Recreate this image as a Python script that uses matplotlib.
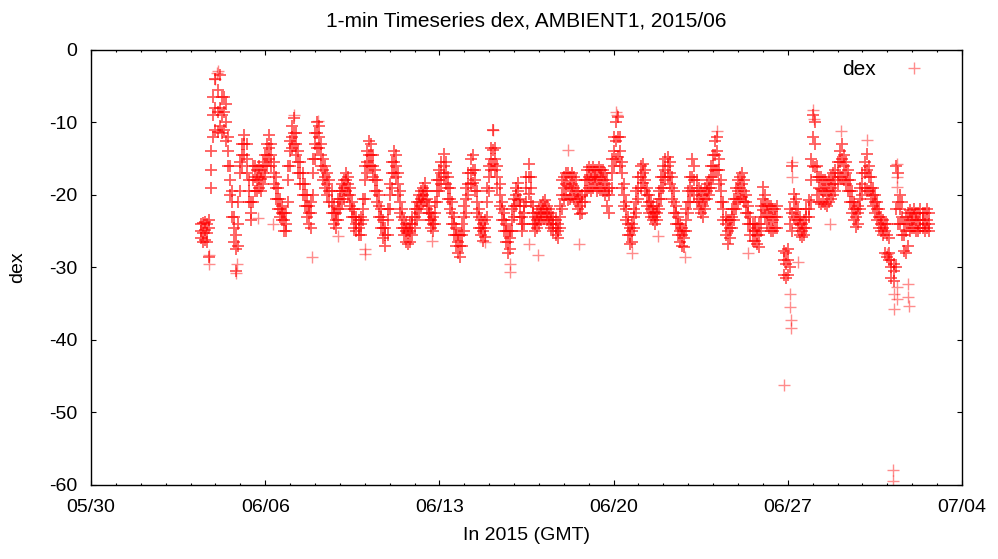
import pandas as pd
import matplotlib
matplotlib.use("Agg")
import matplotlib.pyplot as plt
import matplotlib.dates as mdates

plt.rcParams['font.family'] = ['Liberation Sans', 'DejaVu Sans']
plt.rcParams['axes.unicode_minus'] = False

# -------------------------------
# DATA (2-hour slots from 06/03 10:00 GMT)
# -------------------------------
START = "2015-06-03 10:00"
STEP = "2h"
nan = float("nan")

# upper edge of the band
dex_upper = [
    -24, -23.8, -23.7, -24, -23.5, -14, -6.5,                                   # 06/03
    -4, -5.5, -3.5, -6.5, -6.5, -7.5, -12, -16, -19.5, -23, -25.5, -21,          # 06/04
    -15.5, -13, -11.7, -13, -18, -21, -16, -16, -16.5, -16, -16.5, -15.5,        # 06/05
    -14.5, -13, -11.7, -13, -15.5, -17.5, -19, -20.5, -21.5, -22.5, -22.5, -16,  # 06/06
    -12.5, -10.5, -9.4, -11.5, -14, -15.5, -17, -18.5, -20, -21.5, -21, -15,     # 06/07
    -11.5, -10, -10.5, -13, -15, -16, -17, -18, -19.5, -21.5, -22.5, -20.5,      # 06/08
    -19.5, -18.5, -18, -17, -17.5, -19, -21, -22, -23, -23.5, -23, -20.5,        # 06/09
    -16, -14, -12.5, -13, -14.5, -16.5, -18, -20, -22, -23.5, -24.5, -22,        # 06/10
    -18.5, -15.5, -14, -14.5, -17, -19.5, -22, -23.5, -24, -24.5, -24, -23,      # 06/11
    -22, -21, -20, -19.5, -19, -18.4, -19.5, -21.5, -22.5, -23, -21, -18,        # 06/12
    -16.5, -15.5, -14.3, -15.5, -17.5, -19, -21, -23, -24.5, -25.5, -25.5, -24,  # 06/13
    -21.5, -19, -17, -15, -14.5, -16.5, -19.5, -22, -23.5, -24, -23.5, -19,      # 06/14
    -16, -13.5, -11, -13.5, -16, -18.5, -21, -22.5, -24, -25, -25, -22,          # 06/15
    -20.5, -19, -18.4, -20.5, -23, -21.5, -17.5, -15.7, -17.5, -21.5, -23, -22.5,  # 06/16
    -22, -21.5, -21, -20.7, -21.5, -22, -22.5, -23, -23.5, -24, -21.5, -18,      # 06/17
    -17.5, -17, -17, -17.5, -17, -17.5, -18, -19.5, -20.3, -20, -18, -16.5,      # 06/18
    -16.2, -16.5, -16.2, -16.5, -16.5, -16.2, -16.5, -16.5, -17, -18, -19, -15,  # 06/19
    -12, -10, -9.2, -12, -15.5, -18.5, -21, -23, -24.5, -24, -22, -19.5,         # 06/20
    -17.5, -16, -15.7, -16.5, -19, -20, -21, -21.5, -22.3, -21.5, -19.5, -17.5,  # 06/21
    -16, -15, -14.7, -15.5, -17.5, -19.5, -21.5, -23, -24, -24.5, -25, -22,      # 06/22
    -19.5, -17.5, -15, -16, -18, -19, -19.5, -20, -19, -18.5, -18, -16,          # 06/23
    -14.5, -12.5, -12, -15, -18, -21, -23, -23.5, -23.5, -22, -20.5, -19,        # 06/24
    -18, -17.5, -17, -18, -20, -21.5, -23, -24, -24, -24.5, -24, -21.5,          # 06/25
    -18.9, -20, -21.2, -21.5, -21.5, -22, -22, -21.5, nan, nan, -27.7, -28,      # 06/26
    -27.5, -22, -16, -19.8, -20.5, -22, -23, -24, -23.5, -22, -20.7, -15,        # 06/27
    -9, -10, -16, -17.5, -17.5, -18, -18, -18.5, -18, -17.5, -17, -16.5,         # 06/28
    -15.5, -14, -12.9, -14.5, -15.5, -16.5, -18, -19.5, -21, -22, -21.5, -19,    # 06/29
    -17, -15.5, -14.3, -16, -17.5, -19, -20, -21, -22, -23, -23.5, -24,          # 06/30
    -24, -26, -29, -29.5, -16, -17, -20, -21, -24, -23, -22.5, -22.1,            # 07/01
    -22.5, -22, -22.5, -22.5, -22, -22.5, -22.5, -22, -22.5,                     # 07/02
]

# middle of the band
dex_mid = [
    -25, -25.2, -24.8, -25.3, -24.5, -16.5, -9,                                  # 06/03
    -8, -8.5, -8, -9, -8.5, -10, -14, -18, -21, -24.5, -27.5, -24,               # 06/04
    -17, -14.5, -13, -15, -19.5, -22.5, -18, -17.5, -18, -17.5, -17.8, -17,      # 06/05
    -16, -14.5, -13.5, -14.5, -17, -19, -20.5, -22, -22.5, -23.5, -24, -18,      # 06/06
    -14, -12, -11.5, -13, -15.5, -17, -18.5, -20, -21.5, -22.5, -22.5, -17,      # 06/07
    -13, -11.5, -12, -14.5, -16.5, -17.5, -18.5, -19.5, -21, -22.5, -23.5, -22,  # 06/08
    -20.5, -19.5, -19, -18, -18.5, -20, -22, -23, -24, -24.5, -24, -22,          # 06/09
    -18, -15.5, -14.5, -14.5, -16, -18, -19.5, -21.5, -23, -24.5, -25.5, -23.5,  # 06/10
    -20, -17, -15.5, -16, -18.5, -21, -23, -24.5, -25, -25.3, -25, -24,          # 06/11
    -23, -22, -21, -20.5, -20, -19.5, -20.5, -22.5, -23.5, -24, -22.5, -19.5,    # 06/12
    -18, -17, -16, -17, -19, -20.5, -22.5, -24, -25.5, -26.5, -27, -25.5,        # 06/13
    -23, -20.5, -18.5, -17, -16.5, -18, -21, -23, -24.5, -25, -24.5, -21,        # 06/14
    -17.5, -15, -13.8, -15, -17.5, -20, -22, -23.5, -25, -26.5, -26, -23.5,      # 06/15
    -21.5, -20, -19.5, -21.5, -24, -22.5, -19, -17.5, -19, -22.5, -24, -23.5,    # 06/16
    -23, -22.5, -22, -22, -22.5, -23, -23.5, -24, -24.5, -25, -23, -20,          # 06/17
    -19, -18.5, -18.8, -19, -18.5, -19, -19.5, -20.5, -21.5, -21, -19.5, -18,    # 06/18
    -17.5, -17.8, -17.5, -17.5, -18, -17.5, -17.5, -18, -18.5, -19.5, -20, -17,  # 06/19
    -14, -12.5, -12, -14, -17, -20, -22, -24, -25.5, -25, -23, -21,              # 06/20
    -19, -17.5, -17, -18, -20, -21, -22, -22.5, -23, -22.5, -20.5, -19,          # 06/21
    -17.5, -16.5, -16, -17, -19, -21, -22.5, -24, -25, -25.5, -26, -23.5,        # 06/22
    -21, -19, -17.5, -18, -19.5, -20.5, -21, -21.5, -20.5, -19.5, -19, -17.5,    # 06/23
    -16, -14.5, -14, -16.5, -19.5, -22, -24, -25, -24.5, -23, -22, -20.5,        # 06/24
    -19.5, -19, -18.5, -19.5, -21, -22.5, -24, -25, -25, -25.5, -25.5, -23,      # 06/25
    -20.5, -21.5, -22.5, -23, -23, -23.5, -23, -23, nan, nan, -29, -29.5,        # 06/26
    -29, -24, -22.5, -21, -22, -23.5, -24, -25, -24.5, -23, -22, -18,            # 06/27
    -12, -13, -17.5, -19, -19.2, -19.5, -19.5, -20, -19.5, -19, -18.5, -18,      # 06/28
    -17, -15.5, -15, -16, -17, -18, -19.5, -21, -22, -23, -22.5, -20.5,          # 06/29
    -18.5, -17, -16.5, -17.5, -19, -20, -21, -22, -23, -24, -24.5, -25,          # 06/30
    -25.5, -28, -30, -30.5, -22, -21, -22, -23, -25.5, -25, -24, -23.5,          # 07/01
    -23.5, -23, -23.5, -24, -23.5, -23.5, -24, -23.5, -24,                       # 07/02
]

# lower edge of the band
dex_lower = [
    -26, -26.5, -26.2, -26.5, -28.5, -19, -12,                                   # 06/03
    -11, -11.3, -10.5, -11.5, -11, -12.5, -16, -20, -23, -26.5, -30.5, -27,      # 06/04
    -19.5, -16, -14.5, -17, -21, -23.5, -21, -19.5, -19.5, -19, -19.4, -18.5,    # 06/05
    -17.5, -16, -15, -16, -18.5, -20.5, -22, -23, -23.5, -25, -25, -21,          # 06/06
    -16, -13.5, -13, -14.5, -17, -18.5, -20, -21.5, -23, -24, -24.5, -20,        # 06/07
    -15, -13.5, -13.5, -16, -18, -19, -20, -21, -22.5, -24, -24.5, -23.5,        # 06/08
    -22, -21, -20.5, -19.5, -20, -21.5, -23, -24.5, -25, -25.5, -25.5, -23.5,    # 06/09
    -20.5, -17, -16, -16, -17.5, -19.5, -21, -23, -24.5, -26, -27, -25.5,        # 06/10
    -22, -19, -17, -17.5, -20, -22.5, -24.5, -25.5, -26.5, -26.7, -26.5, -25.5,  # 06/11
    -24.5, -23.5, -22.5, -21.5, -21, -20.7, -22, -23.5, -24.5, -25, -24, -21,    # 06/12
    -19.5, -18.5, -17.5, -18.5, -20.5, -22, -24, -25.5, -27, -28, -28.6, -27,    # 06/13
    -25, -22.5, -20, -18.5, -18.4, -19.5, -22.5, -24.5, -25.5, -26.3, -25.8, -23,  # 06/14
    -19.5, -16.5, -15.7, -16.5, -19, -21.5, -23.5, -25, -26.5, -28, -27.5, -25,  # 06/15
    -23, -21.5, -20.7, -23, -25, -24, -21, -19.8, -21, -24, -25, -24.5,          # 06/16
    -24, -23.5, -23, -23, -23.5, -24, -24.5, -25, -25.5, -26, -24.5, -22,        # 06/17
    -20.5, -20, -20.7, -20.5, -20, -20.5, -21, -22, -22.6, -22.5, -21, -19.5,    # 06/18
    -19, -19.4, -19, -18.5, -19.4, -19, -19, -19.5, -20, -21.5, -22.5, -19,      # 06/19
    -16, -15, -14.7, -16, -19, -21.5, -23.5, -25.5, -26.7, -26.5, -24.5, -22.5,  # 06/20
    -20.5, -19, -18.4, -19.5, -21.5, -22.5, -23, -23.5, -24, -23.5, -22, -20.5,  # 06/21
    -19, -18, -17.5, -18.5, -20.5, -22.5, -24, -25.5, -26.5, -27, -27.2, -25,    # 06/22
    -22.5, -21, -19.4, -20, -21, -22, -22.5, -23, -22, -20.5, -20, -19,          # 06/23
    -17.5, -16.5, -16.6, -18.5, -21, -23.5, -25.5, -26.7, -26, -24.5, -23.5, -22,  # 06/24
    -21, -20.5, -20.3, -21, -22.5, -24, -25.5, -26.3, -26.3, -26.8, -27.2, -25,  # 06/25
    -22.1, -23, -24, -24.5, -24.9, -24.9, -24.5, -24.5, nan, nan, -31, -31.4,    # 06/26
    -31, -30, -25, -23, -23.5, -24.5, -25.5, -25.8, -25.5, -24.5, -23, -21,      # 06/27
    -16, -16.2, -20, -21, -21.2, -21, -21.2, -21.5, -21, -20.5, -20, -19.5,      # 06/28
    -18.5, -17.5, -17.5, -18, -18.5, -19.5, -21, -22.5, -23.5, -24.4, -24, -22,  # 06/29
    -20, -19, -19.4, -19.5, -20.5, -21.5, -22.5, -23.5, -24.5, -25, -25.5, -28,  # 06/30
    -28.5, -29, -31.5, -31.8, -30, -24, -24, -25.5, -27.7, -28, -27, -24.9,      # 07/01
    -24.5, -24.5, -24.9, -25, -24.5, -24.5, -25, -24.5, -25,                     # 07/02
]

# scattered single points outside the band
outlier_times = [
    "2015-06-03 17:45", "2015-06-03 18:00", "2015-06-04 00:00", "2015-06-04 01:10",
    "2015-06-04 02:50", "2015-06-04 20:15", "2015-06-04 20:45", "2015-06-05 17:15",
    "2015-06-06 07:25", "2015-06-07 03:35", "2015-06-07 20:50", "2015-06-08 02:50",
    "2015-06-08 22:20", "2015-06-10 00:10", "2015-06-10 00:20", "2015-06-12 16:35",
    "2015-06-14 19:55", "2015-06-15 04:05", "2015-06-15 20:05", "2015-06-15 20:15",
    "2015-06-16 14:25", "2015-06-16 23:30", "2015-06-18 04:20", "2015-06-18 14:10",
    "2015-06-20 02:25", "2015-06-20 03:35", "2015-06-20 17:30", "2015-06-21 19:10",
    "2015-06-22 20:50", "2015-06-24 03:35", "2015-06-25 10:05", "2015-06-26 20:25",
    "2015-06-27 02:10", "2015-06-27 02:30", "2015-06-27 02:50", "2015-06-27 03:00",
    "2015-06-27 04:00", "2015-06-27 04:10", "2015-06-27 10:20", "2015-06-28 00:45",
    "2015-06-28 01:10", "2015-06-28 16:50", "2015-06-29 03:35", "2015-06-30 04:20",
    "2015-06-30 23:30", "2015-07-01 05:15", "2015-07-01 05:20", "2015-07-01 06:00",
    "2015-07-01 06:05", "2015-07-01 09:05", "2015-07-01 09:10", "2015-07-01 09:00",
    "2015-07-01 09:35", "2015-07-01 09:40", "2015-07-01 20:20", "2015-07-01 20:25",
    "2015-07-01 20:30",
]
outlier_values = [
    -28.3, -29.5, -4.0, -3.2,
    -2.9, -30.7, -29.5, -23.2,
    -24.0, -9.0, -28.6, -9.8,
    -25.6, -27.4, -28.2, -26.3,
    -26.5, -11.0, -30.6, -29.5,
    -26.7, -28.3, -13.8, -26.7,
    -8.5, -9.0, -28.0, -25.6,
    -28.6, -11.2, -28.0, -46.2,
    -33.6, -35.5, -37.3, -38.3,
    -15.4, -17.5, -29.3, -8.3,
    -9.5, -24.0, -11.2, -12.4,
    -28.1, -58.0, -59.5, -33.6,
    -35.7, -15.7, -17.5, -18.9,
    -32.7, -34.3, -32.3, -34.1,
    -35.3,
]

x_major = pd.date_range("2015-05-30", "2015-07-04", freq="7D")
y_ticks = [0, -10, -20, -30, -40, -50, -60]

# -------------------------------
# PLOT
# -------------------------------
times = pd.date_range(START, periods=len(dex_mid), freq=STEP)

fig = plt.figure(figsize=(9.98, 5.59), dpi=100)
ax = fig.add_axes([0.0912, 0.1324, 0.8727, 0.7782])

band = dict(linestyle='none', marker='+', color='red', markeredgecolor='red',
            markersize=9, markeredgewidth=1.3, alpha=0.65)
single = dict(band, alpha=0.45, markeredgewidth=1.0, markersize=8)
ax.plot(times, dex_upper, **band)
ax.plot(times, dex_lower, **band)
ax.plot(times, dex_mid, **band)
ax.plot(pd.to_datetime(outlier_times), outlier_values, label='dex', **single)

ax.set_xlim(x_major[0], x_major[-1])
ax.set_ylim(-60, 0)
ax.set_xticks(x_major)
ax.xaxis.set_major_formatter(mdates.DateFormatter('%m/%d'))
ax.xaxis.set_minor_locator(mdates.DayLocator())
ax.set_yticks(y_ticks)

ax.tick_params(which='both', direction='in', top=True, right=True,
               labelsize=14, pad=10, width=0.8)
ax.tick_params(which='major', length=3.3)
ax.tick_params(which='minor', length=1.7)
for s in ax.spines.values():
    s.set_linewidth(1.0)

ax.set_title("1-min Timeseries dex, AMBIENT1, 2015/06", fontsize=15, pad=17)
ax.set_xlabel("In 2015 (GMT)", fontsize=14, labelpad=8)
ax.set_ylabel("dex", fontsize=14, labelpad=16)

ax.legend(loc='upper right', markerfirst=False, frameon=False, fontsize=15,
          handlelength=2.0, handletextpad=0.8, borderaxespad=0.0,
          bbox_to_anchor=(0.978, 0.995))

fig.savefig("out.png", dpi=100)
